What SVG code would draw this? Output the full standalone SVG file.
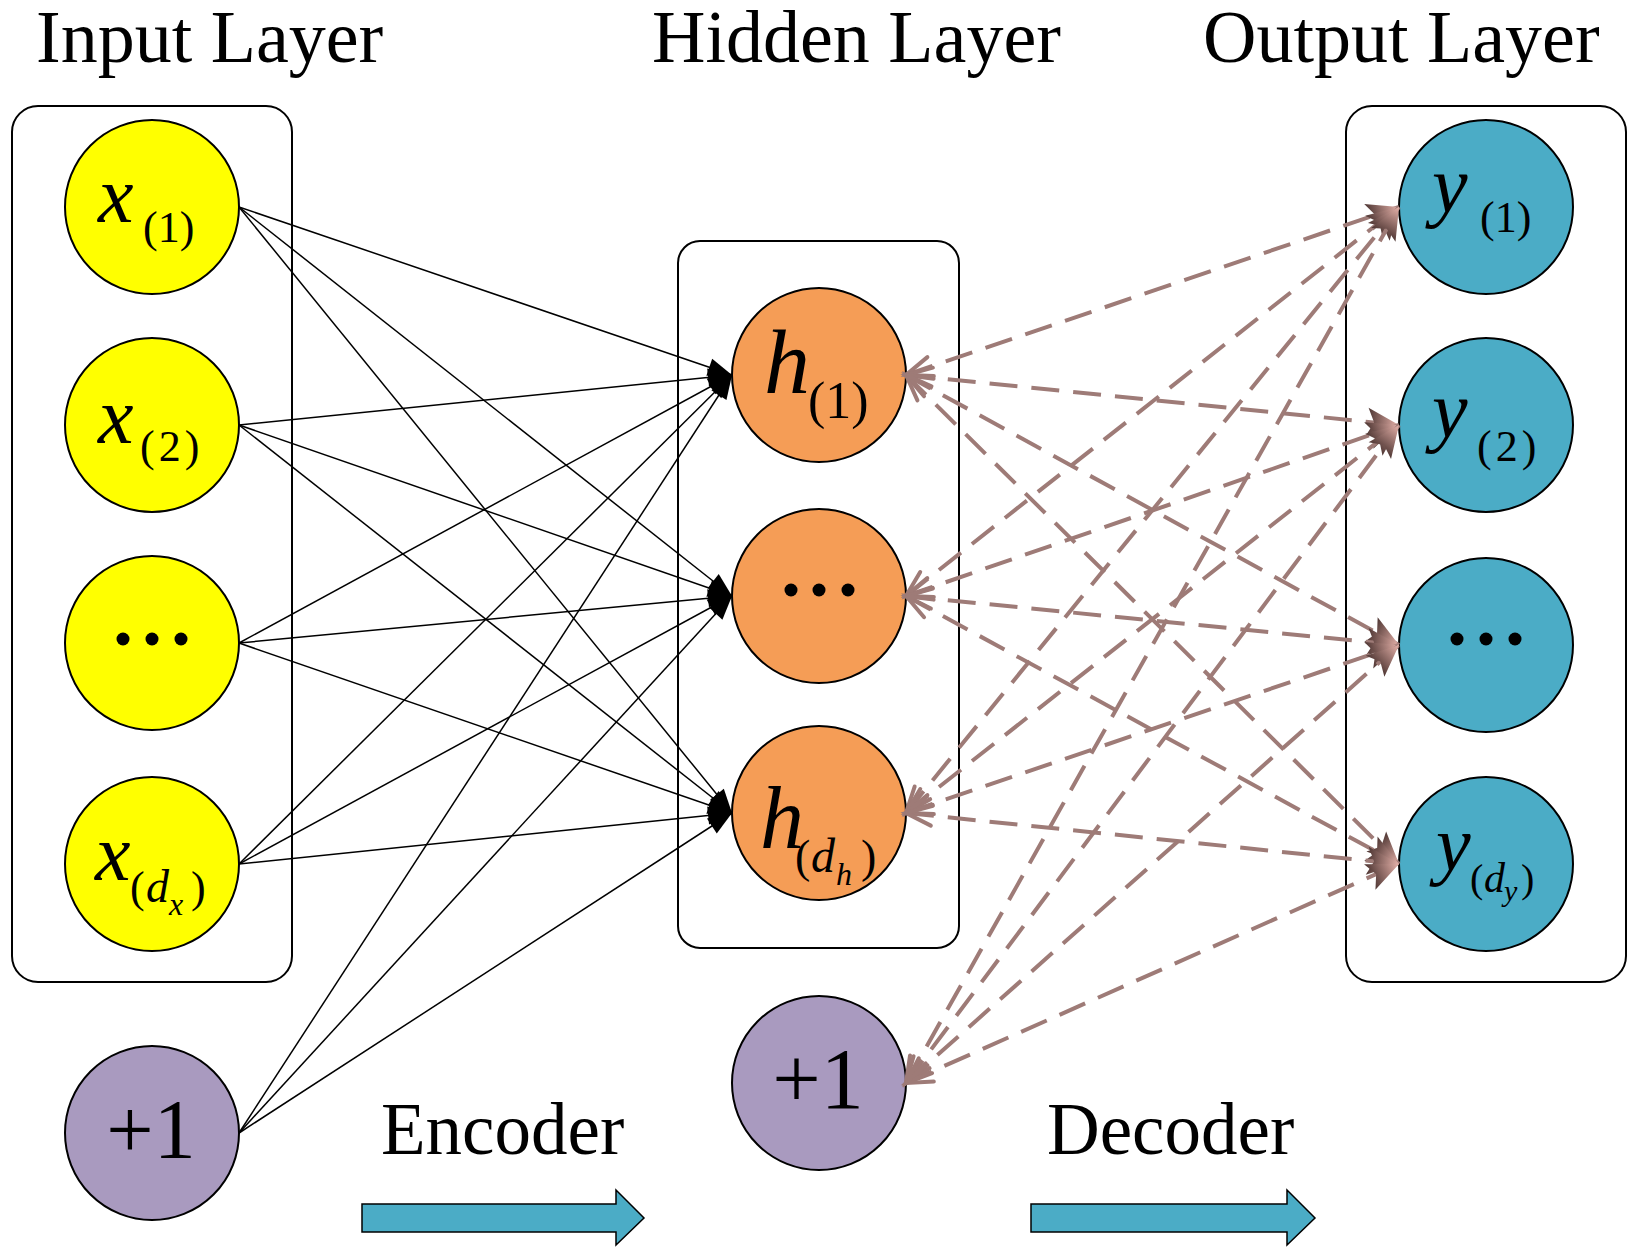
<svg xmlns="http://www.w3.org/2000/svg" width="1637" height="1252" viewBox="0 0 1637 1252">
<style>
.t{font-family:"Liberation Serif","Times New Roman",serif;fill:#000}
.box{fill:none;stroke:#000;stroke-width:2}
.nd{stroke:#000;stroke-width:2}
.in{fill:#FFFF00}.hid{fill:#F59D56}.bias{fill:#A99ABF}.out{fill:#4BACC6}
.enc line{stroke:#000;stroke-width:1.5;marker-end:url(#ae)}
.dec line{stroke:#9E7B77;stroke-width:4;stroke-dasharray:28 14;marker-start:url(#ao);marker-end:url(#af)}
.i{font-style:italic}
.big{fill:#4BACC6;stroke:#000;stroke-width:1.5}
</style>
<defs>
<linearGradient id="g" x1="0" y1="0" x2="1" y2="0">
<stop offset="0" stop-color="#4E3633"/><stop offset="1" stop-color="#E6B2AA"/>
</linearGradient>
<marker id="ae" markerUnits="userSpaceOnUse" viewBox="-26 -11 28 22" markerWidth="28" markerHeight="22" refX="0" refY="0" orient="auto" overflow="visible">
<path d="M0,0 L-24,-9 L-24,9 Z" fill="#000"/>
</marker>
<marker id="af" markerUnits="userSpaceOnUse" viewBox="-34 -16 36 32" markerWidth="36" markerHeight="32" refX="0" refY="0" orient="auto" overflow="visible">
<path d="M0,0 L-32,-14 L-25,0 L-32,14 Z" fill="url(#g)"/>
</marker>
<marker id="ao" markerUnits="userSpaceOnUse" viewBox="-30 -15 32 30" markerWidth="32" markerHeight="30" refX="0" refY="0" orient="auto-start-reverse" overflow="visible">
<path d="M-26,-10 L0,0 L-26,10" fill="none" stroke="#9E7B77" stroke-width="4" stroke-linecap="round"/>
</marker>
</defs>
<rect width="1637" height="1252" fill="#fff"/>

<g id="titles" class="t" font-size="74">
<text x="36" y="62">Input Layer</text>
<text x="652" y="62">Hidden Layer</text>
<text x="1203" y="62">Output Layer</text>
<text x="381" y="1154" font-size="73">Encoder</text>
<text x="1047" y="1154" font-size="73">Decoder</text>
</g>

<g id="boxes">
<rect id="input-box" class="box" x="12" y="106" width="280" height="876" rx="26"/>
<rect id="hidden-box" class="box" x="678" y="241" width="281" height="707" rx="22"/>
<rect id="output-box" class="box" x="1346" y="106" width="280" height="876" rx="26"/>
</g>

<g id="input-nodes">
<g id="x1"><circle class="nd in" cx="152" cy="207" r="87"/>
<text class="t"><tspan class="i" x="98" y="222" font-size="80">x</tspan><tspan x="143" y="242" font-size="44">(1)</tspan></text></g>
<g id="x2"><circle class="nd in" cx="152" cy="425" r="87"/>
<text class="t"><tspan class="i" x="98" y="443" font-size="80">x</tspan><tspan x="140" y="461" font-size="44" letter-spacing="4">(2)</tspan></text></g>
<g id="xdots"><circle class="nd in" cx="152" cy="643" r="87"/>
<circle cx="123" cy="639" r="6.5"/><circle cx="152" cy="639" r="6.5"/><circle cx="181" cy="639" r="6.5"/></g>
<g id="xdx"><circle class="nd in" cx="152" cy="864" r="87"/>
<text class="t"><tspan class="i" x="95" y="880" font-size="80">x</tspan><tspan x="130" y="902" font-size="44">(</tspan><tspan class="i" x="146" y="902" font-size="46">d</tspan><tspan class="i" x="169" y="915" font-size="32">x</tspan><tspan x="191" y="902" font-size="44">)</tspan></text></g>
<g id="xbias"><circle class="nd bias" cx="152" cy="1133" r="87"/>
<text class="t" x="151" y="1158" font-size="84" text-anchor="middle">+1</text></g>
</g>

<g id="hidden-nodes">
<g id="h1"><circle class="nd hid" cx="819" cy="375" r="87"/>
<text class="t"><tspan class="i" x="764" y="393" font-size="92">h</tspan><tspan x="808" y="418" font-size="52">(1)</tspan></text></g>
<g id="hdots"><circle class="nd hid" cx="819" cy="596" r="87"/>
<circle cx="791" cy="590" r="6.5"/><circle cx="819" cy="590" r="6.5"/><circle cx="848" cy="590" r="6.5"/></g>
<g id="hdh"><circle class="nd hid" cx="819" cy="813" r="87"/>
<text class="t"><tspan class="i" x="760" y="848" font-size="88">h</tspan><tspan x="795" y="872" font-size="46">(</tspan><tspan class="i" x="811" y="872" font-size="48">d</tspan><tspan class="i" x="836" y="885" font-size="32">h</tspan><tspan x="861" y="872" font-size="46">)</tspan></text></g>
<g id="hbias"><circle class="nd bias" cx="819" cy="1083" r="87"/>
<text class="t" x="818" y="1108" font-size="86" text-anchor="middle">+1</text></g>
</g>

<g id="output-nodes">
<g id="y1"><circle class="nd out" cx="1486" cy="207" r="87"/>
<text class="t"><tspan class="i" x="1432" y="212" font-size="80">y</tspan><tspan x="1480" y="232" font-size="44">(1)</tspan></text></g>
<g id="y2"><circle class="nd out" cx="1486" cy="425" r="87"/>
<text class="t"><tspan class="i" x="1432" y="437" font-size="80">y</tspan><tspan x="1477" y="461" font-size="44" letter-spacing="4">(2)</tspan></text></g>
<g id="ydots"><circle class="nd out" cx="1486" cy="645" r="87"/>
<circle cx="1457" cy="639" r="6.5"/><circle cx="1486" cy="639" r="6.5"/><circle cx="1515" cy="639" r="6.5"/></g>
<g id="ydy"><circle class="nd out" cx="1486" cy="864" r="87"/>
<text class="t"><tspan class="i" x="1436" y="870" font-size="78">y</tspan><tspan x="1470" y="892" font-size="40">(</tspan><tspan class="i" x="1484" y="892" font-size="42">d</tspan><tspan class="i" x="1504" y="901" font-size="30">y</tspan><tspan x="1521" y="892" font-size="40">)</tspan></text></g>
</g>

<g id="connectors">
<g class="enc">
<line x1="239" y1="207" x2="732" y2="375"/><line x1="239" y1="207" x2="732" y2="596"/><line x1="239" y1="207" x2="732" y2="813"/>
<line x1="239" y1="425" x2="732" y2="375"/><line x1="239" y1="425" x2="732" y2="596"/><line x1="239" y1="425" x2="732" y2="813"/>
<line x1="239" y1="643" x2="732" y2="375"/><line x1="239" y1="643" x2="732" y2="596"/><line x1="239" y1="643" x2="732" y2="813"/>
<line x1="239" y1="864" x2="732" y2="375"/><line x1="239" y1="864" x2="732" y2="596"/><line x1="239" y1="864" x2="732" y2="813"/>
<line x1="239" y1="1133" x2="732" y2="375"/><line x1="239" y1="1133" x2="732" y2="596"/><line x1="239" y1="1133" x2="732" y2="813"/>
</g>
<g class="dec">
<line x1="906" y1="375" x2="1399" y2="207"/><line x1="906" y1="375" x2="1399" y2="425"/><line x1="906" y1="375" x2="1399" y2="645"/><line x1="906" y1="375" x2="1399" y2="864"/>
<line x1="906" y1="596" x2="1399" y2="207"/><line x1="906" y1="596" x2="1399" y2="425"/><line x1="906" y1="596" x2="1399" y2="645"/><line x1="906" y1="596" x2="1399" y2="864"/>
<line x1="906" y1="813" x2="1399" y2="207"/><line x1="906" y1="813" x2="1399" y2="425"/><line x1="906" y1="813" x2="1399" y2="645"/><line x1="906" y1="813" x2="1399" y2="864"/>
<line x1="906" y1="1083" x2="1399" y2="207"/><line x1="906" y1="1083" x2="1399" y2="425"/><line x1="906" y1="1083" x2="1399" y2="645"/><line x1="906" y1="1083" x2="1399" y2="864"/>
</g>
</g>

<g id="encoder-arrow"><path class="big" d="M362,1204 H616 V1190 L644,1218 L616,1245 V1232 H362 Z"/></g>
<g id="decoder-arrow"><path class="big" d="M1031,1204 H1287 V1190 L1315,1218 L1287,1245 V1232 H1031 Z"/></g>
</svg>
